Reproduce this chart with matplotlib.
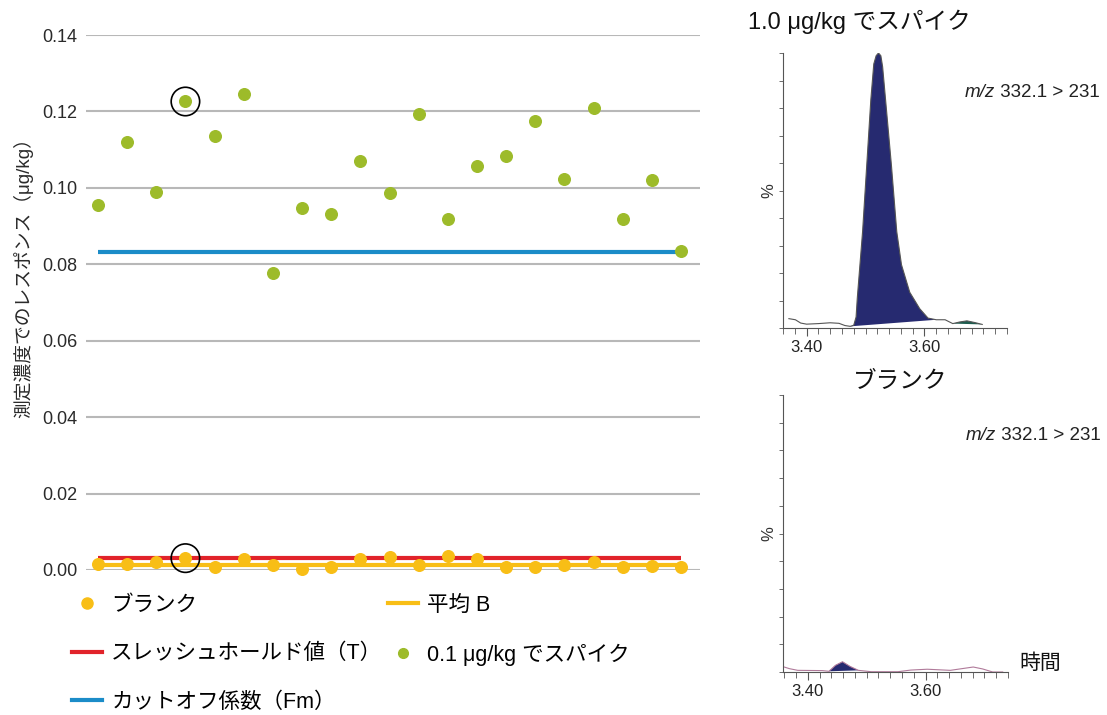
import numpy as np
import matplotlib
matplotlib.use("Agg")
import matplotlib.pyplot as plt
from matplotlib.lines import Line2D

plt.rcParams['font.family'] = ['Liberation Sans', 'Noto Sans CJK JP', 'DejaVu Sans']

# measured responses (ug/kg), 21 samples
spike_01 = [0.0956, 0.1120, 0.0990, 0.1226, 0.1137, 0.1246, 0.0778, 0.0948, 0.0931,
            0.1070, 0.0986, 0.1192, 0.0919, 0.1058, 0.1083, 0.1175, 0.1024, 0.1209,
            0.0919, 0.1020, 0.0834]
blank = [0.0016, 0.0017, 0.0020, 0.0031, 0.0007, 0.0030, 0.0013, 0.0003, 0.0009,
         0.0030, 0.0033, 0.0013, 0.0036, 0.0029, 0.0007, 0.0009, 0.0012, 0.0020,
         0.0009, 0.0011, 0.0007]
mean_b = 0.0014
threshold_t = 0.0032
cutoff_fm = 0.0832
circled = 3  # sample marked with a circle

# chromatogram traces (retention time min, % intensity)
spike_t = [3.370, 3.381, 3.390, 3.400, 3.420, 3.440, 3.455, 3.465, 3.474, 3.480, 3.484,
           3.486, 3.495, 3.502, 3.509, 3.514, 3.518, 3.522, 3.526, 3.529, 3.534, 3.544,
           3.553, 3.561, 3.575, 3.592, 3.606, 3.620, 3.635, 3.648, 3.660, 3.672, 3.685,
           3.698]
spike_pct = [3.4, 3.0, 1.8, 1.4, 1.6, 1.9, 1.7, 0.9, 0.6, 1.0, 4.0,
             10.8, 35, 59, 83, 96, 99, 100, 99, 95, 83, 59,
             35, 23, 13, 7.0, 3.6, 3.0, 3.0, 1.6, 2.2, 2.6, 2.0,
             1.3]
blank_t = [3.357, 3.369, 3.383, 3.425, 3.436, 3.447, 3.459, 3.472, 3.486, 3.508,
           3.553, 3.575, 3.603, 3.642, 3.681, 3.697, 3.714, 3.731]
blank_pct = [2.0, 1.2, 0.6, 0.5, 0.25, 2.4, 3.7, 2.0, 0.6, 0.1,
             0.1, 0.7, 1.0, 0.6, 1.8, 1.1, 0.0, 0.0]

green = "#9dbb2a"
yellow = "#f8be16"
red = "#e1232a"
blue = "#1b8cc8"
navy = "#262a70"

fig = plt.figure(figsize=(11.07, 7.15), dpi=100)

# ---- main scatter chart
ax = fig.add_axes([86 / 1107, 1 - 570 / 715, 614 / 1107, 535 / 715])
x = np.arange(len(spike_01))
ax.set_xlim(-0.41, 20.65)
ax.set_ylim(0, 0.14)
ax.set_yticks(np.arange(0, 0.141, 0.02))
ax.yaxis.set_major_formatter(matplotlib.ticker.FormatStrFormatter('%.2f'))
ax.grid(axis='y', color='#b8b8b8', lw=1.5)
ax.set_axisbelow(True)
for s in ax.spines.values():
    s.set_visible(False)
ax.set_xticks([])
ax.tick_params(axis='y', length=0, pad=6, labelsize=13, labelcolor='#2a2a2a')

ax.plot(x, [cutoff_fm] * len(x), color=blue, lw=3, solid_capstyle='butt', zorder=2)
ax.plot(x, [threshold_t] * len(x), color=red, lw=3, solid_capstyle='butt', zorder=2)
ax.plot(x, [mean_b] * len(x), color=yellow, lw=3, solid_capstyle='butt', zorder=2)
ax.scatter(x, spike_01, s=70, color=green, zorder=3, clip_on=False)
ax.scatter(x, blank, s=70, color=yellow, zorder=3, clip_on=False)
ax.scatter([x[circled]] * 2, [spike_01[circled], blank[circled]], s=420,
           facecolors='none', edgecolors='black', lw=1.2, zorder=4, clip_on=False)

fig.text(23 / 1107, 1 - 273 / 715, "測定濃度でのレスポンス（μg/kg）", rotation=90,
         ha='center', va='center', fontsize=13.5, color='#2a2a2a')

handles = [
    Line2D([], [], ls='none', marker='o', ms=8, color=yellow),
    Line2D([], [], color=red, lw=3),
    Line2D([], [], color=blue, lw=3),
    Line2D([], [], color=yellow, lw=3),
    Line2D([], [], ls='none', marker='o', ms=7, color=green),
]
labels = ["ブランク", "スレッシュホールド値（T）", "カットオフ係数（Fm）",
          "平均 B", "0.1 μg/kg でスパイク"]
fig.legend(handles, labels, ncol=2, loc='upper left',
           bbox_to_anchor=(72 / 1107, 1 - 595 / 715),
           frameon=False, fontsize=15.5, handlelength=1.4, handletextpad=0.42,
           columnspacing=0.25, labelspacing=1.27, borderaxespad=0, borderpad=0)

# ---- chromatograms
def chrom(rect, t, pct, xlim, line_color, title, title_xy, peak_range,
          extra_fill=None, time_label=False):
    a = fig.add_axes(rect)
    t = np.array(t)
    pct = np.array(pct)
    a.plot(t, pct, color=line_color, lw=0.8)
    m = (t >= peak_range[0]) & (t <= peak_range[1])
    a.fill(t[m], pct[m], color=navy, lw=0)
    if extra_fill is not None:
        m2 = (t >= extra_fill[0]) & (t <= extra_fill[1])
        a.fill(t[m2], pct[m2], color='#1d5c4e', lw=0)
    a.set_xlim(*xlim)
    a.set_ylim(0, 100)
    for s in ('top', 'right'):
        a.spines[s].set_visible(False)
    for s in ('left', 'bottom'):
        a.spines[s].set_color('#555555')
        a.spines[s].set_linewidth(0.8)
    a.set_yticks(np.arange(0, 101, 10))
    a.set_yticklabels([])
    a.tick_params(axis='y', length=3, width=0.6, color='#555555')
    a.set_xticks([3.40, 3.60])
    a.set_xticklabels(["3.40", "3.60"])
    a.set_xticks(np.arange(3.36, 3.74, 0.02), minor=True)
    a.tick_params(axis='x', which='major', length=6, width=0.8, color='#555555',
                  labelsize=12, labelcolor='#222222', pad=3)
    a.tick_params(axis='x', which='minor', length=4, width=0.6, color='#555555')
    a.text(-0.065, 0.5, "%", rotation=90, transform=a.transAxes, ha='center', va='center',
           fontsize=12, color='#333333')
    a.text(title_xy[0], title_xy[1], title, transform=a.transAxes, ha='center',
           va='center', fontsize=17, color='#111111')
    t1 = a.text(0.81, 0.855, "m/z", transform=a.transAxes, ha='left', va='center',
                style='italic', fontsize=13.5, color='#222222')
    a.annotate(" 332.1 > 231", xy=(1, 0), xycoords=t1, ha='left', va='bottom',
               fontsize=13.5, color='#222222')
    if time_label:
        a.text(1.05, 0.03, "時間", transform=a.transAxes, ha='left', va='center',
               fontsize=15, color='#111111')
    return a

chrom([783 / 1107, 1 - 328 / 715, 224 / 1107, 275 / 715], spike_t, spike_pct,
      (3.370, 3.702), '#555555', "1.0 μg/kg でスパイク", (0.34, 1.113),
      (3.474, 3.620), extra_fill=(3.648, 3.698))
chrom([783 / 1107, 1 - 672 / 715, 225 / 1107, 277 / 715], blank_t, blank_pct,
      (3.358, 3.733), '#b07a9a', "ブランク", (0.52, 1.047), (3.436, 3.486),
      time_label=True)

fig.savefig("out.png", dpi=100)
